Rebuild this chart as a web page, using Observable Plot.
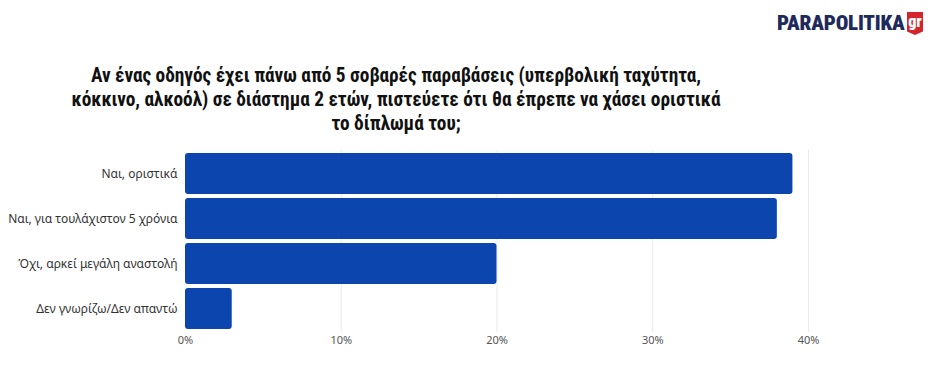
<!DOCTYPE html>
<html><head><meta charset="utf-8">
<script src="https://cdn.jsdelivr.net/npm/d3@7"></script>
<script src="https://cdn.jsdelivr.net/npm/@observablehq/plot@0.6"></script>
<style>
body{margin:0;background:#fff;width:940px;height:383px;position:relative;overflow:hidden;font-family:"Noto Sans",sans-serif;}
#logo{position:absolute;left:777px;top:0;height:40px;width:160px;}
#logo .p{position:absolute;left:0;top:9px;font-family:"Roboto Condensed","Liberation Sans Narrow",Roboto,sans-serif;font-weight:900;font-size:21px;line-height:28px;color:#1f2a5c;letter-spacing:-0.2px;white-space:nowrap;}
#logo .g{position:absolute;left:130px;top:12px;width:16px;height:23px;background:#d4252c;color:#fff;font-family:"Roboto Condensed",Roboto,sans-serif;font-weight:900;font-size:16px;line-height:20px;text-align:center;clip-path:polygon(0 0,100% 0,100% 85%,50% 100%,0 85%);}
#title{position:absolute;left:0;top:64px;width:792px;text-align:center;font-family:"Roboto Condensed","Liberation Sans Narrow",Roboto,sans-serif;font-weight:700;font-size:19.3px;line-height:24px;color:#111;}
#chart{position:absolute;left:0;top:145px;}
</style></head><body>
<div id="logo"><span class="p">PARAPOLITIKA</span><span class="g">gr</span></div>
<div id="title">Αν ένας οδηγός έχει πάνω από 5 σοβαρές παραβάσεις (υπερβολική ταχύτητα,<br>κόκκινο, αλκοόλ) σε διάστημα 2 ετών, πιστεύετε ότι θα έπρεπε να χάσει οριστικά<br>το δίπλωμά του;</div>
<div id="chart"></div>
<script>
const categories = ["Ναι, οριστικά","Ναι, για τουλάχιστον 5 χρόνια","Όχι, αρκεί μεγάλη αναστολή","Δεν γνωρίζω/Δεν απαντώ"];
const values = [39, 38, 20, 3];
const xTicks = [0, 10, 20, 30, 40];

const data = categories.map((c, i) => ({category: c, value: values[i]}));

const chart = Plot.plot({
  width: 940,
  height: 210,
  marginLeft: 185,
  marginRight: 132,
  marginTop: 5,
  marginBottom: 23,
  style: {fontFamily: "'Noto Sans', sans-serif", fontSize: "11px", color: "#555", background: "transparent"},
  x: {domain: [0, 40], ticks: xTicks, tickFormat: d => d + "%", label: null},
  y: {domain: categories, label: null, paddingInner: 0.1, paddingOuter: 0.05},
  marks: [
    Plot.ruleX(xTicks.filter(t => t > 0), {stroke: "#ebebeb"}),
    Plot.barX(data, {x: "value", y: "category", fill: "#0b45ad", rx: 3}),
    Plot.axisY({tickSize: 0, tickPadding: 8, fontSize: 12, fill: "#333"}),
    Plot.axisX(xTicks, {tickSize: 0, tickPadding: 4, tickFormat: d => d + "%", fill: "#555"})
  ]
});
document.getElementById("chart").appendChild(chart);
</script>
</body></html>
